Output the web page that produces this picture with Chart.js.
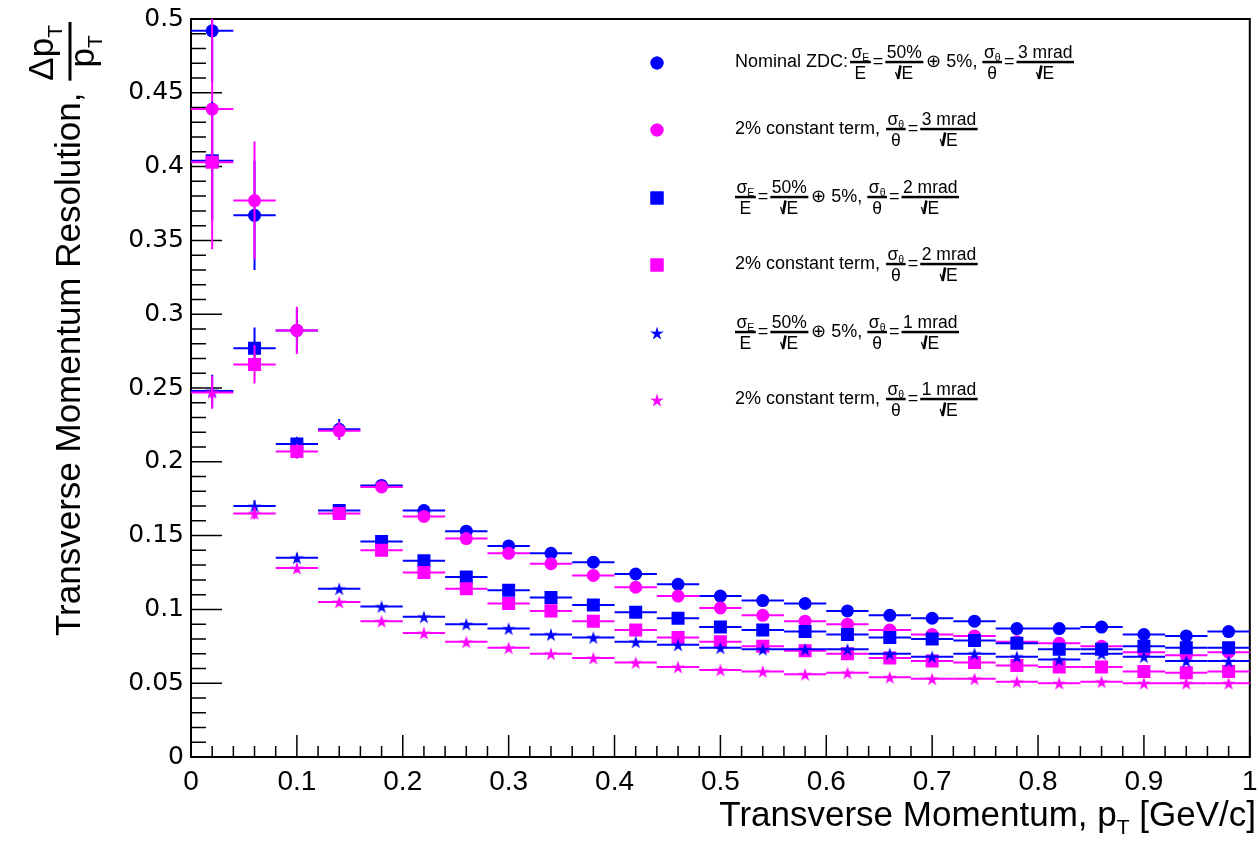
<!DOCTYPE html>
<html>
<head>
<meta charset="utf-8">
<script src="https://cdn.jsdelivr.net/npm/chart.js@4/dist/chart.umd.min.js"></script>
<style>
  html, body { margin: 0; padding: 0; background: #fff; }
  #myChart { display: block; }
</style>
</head>
<body>
<canvas id="myChart" width="1259" height="842"></canvas>
<script>
// bin centres of pT [GeV/c], each bin is 0.04 wide
const binCenters = [0.02, 0.06, 0.10, 0.14, 0.18, 0.22, 0.26, 0.30, 0.34, 0.38, 0.42, 0.46, 0.50,
  0.54, 0.58, 0.62, 0.66, 0.70, 0.74, 0.78, 0.82, 0.86, 0.90, 0.94, 0.98];
const binHalfWidth = 0.02;

// Nominal ZDC, 3 mrad
const nominal3 = [0.492, 0.367, 0.289, 0.222, 0.184, 0.167, 0.153, 0.143, 0.138, 0.132, 0.124, 0.117, 0.109,
  0.106, 0.104, 0.099, 0.096, 0.094, 0.092, 0.087, 0.087, 0.088, 0.083, 0.082, 0.085];
const nominal3Err = [0.035, 0.037, 0.015, 0.007, 0.003, 0.003, 0.002, 0.002, 0.002, 0.002, 0.002, 0.002, 0.002,
  0.002, 0.002, 0.002, 0.002, 0.002, 0.002, 0.002, 0.002, 0.002, 0.002, 0.002, 0.002];
// 2% constant term, 3 mrad
const const3 = [0.439, 0.377, 0.289, 0.221, 0.183, 0.163, 0.148, 0.138, 0.131, 0.123, 0.115, 0.109, 0.101,
  0.096, 0.092, 0.090, 0.086, 0.083, 0.082, 0.078, 0.077, 0.075, 0.071, 0.069, 0.071];
const const3Err = [0.095, 0.040, 0.016, 0.006, 0.003, 0.003, 0.002, 0.002, 0.002, 0.002, 0.002, 0.002, 0.002,
  0.002, 0.002, 0.002, 0.002, 0.002, 0.002, 0.002, 0.002, 0.002, 0.002, 0.002, 0.002];
// 50% (+) 5%, 2 mrad
const nominal2 = [0.404, 0.277, 0.212, 0.167, 0.146, 0.133, 0.122, 0.113, 0.108, 0.103, 0.098, 0.094, 0.088,
  0.086, 0.085, 0.083, 0.081, 0.080, 0.079, 0.077, 0.073, 0.073, 0.075, 0.074, 0.074];
const nominal2Err = [0.040, 0.014, 0.005, 0.003, 0.002, 0.002, 0.002, 0.002, 0.002, 0.002, 0.002, 0.002, 0.002,
  0.002, 0.002, 0.002, 0.002, 0.002, 0.002, 0.002, 0.002, 0.002, 0.002, 0.002, 0.002];
// 2% constant term, 2 mrad
const const2 = [0.403, 0.266, 0.207, 0.165, 0.140, 0.125, 0.114, 0.104, 0.099, 0.092, 0.086, 0.081, 0.078,
  0.075, 0.072, 0.070, 0.067, 0.065, 0.064, 0.062, 0.061, 0.061, 0.058, 0.057, 0.058];
const const2Err = [0.040, 0.013, 0.005, 0.003, 0.002, 0.002, 0.002, 0.002, 0.002, 0.002, 0.002, 0.002, 0.002,
  0.002, 0.002, 0.002, 0.002, 0.002, 0.002, 0.002, 0.002, 0.002, 0.002, 0.002, 0.002];
// 50% (+) 5%, 1 mrad
const nominal1 = [0.248, 0.170, 0.135, 0.114, 0.102, 0.095, 0.090, 0.087, 0.083, 0.081, 0.078, 0.076, 0.074,
  0.073, 0.073, 0.073, 0.070, 0.068, 0.070, 0.068, 0.066, 0.070, 0.068, 0.065, 0.065];
const nominal1Err = [0.011, 0.004, 0.003, 0.002, 0.002, 0.002, 0.002, 0.002, 0.002, 0.002, 0.002, 0.002, 0.002,
  0.002, 0.002, 0.002, 0.002, 0.002, 0.002, 0.002, 0.002, 0.002, 0.002, 0.002, 0.002];
// 2% constant term, 1 mrad
const const1 = [0.247, 0.165, 0.128, 0.105, 0.092, 0.084, 0.078, 0.074, 0.070, 0.067, 0.064, 0.061, 0.059,
  0.058, 0.056, 0.057, 0.054, 0.053, 0.053, 0.051, 0.050, 0.051, 0.050, 0.050, 0.050];
const const1Err = [0.011, 0.004, 0.003, 0.002, 0.002, 0.002, 0.002, 0.002, 0.002, 0.002, 0.002, 0.002, 0.002,
  0.002, 0.002, 0.002, 0.002, 0.002, 0.002, 0.002, 0.002, 0.002, 0.002, 0.002, 0.002];

const yTicks = { min: 0, max: 0.5, step: 0.05 };
const xTicks = { min: 0, max: 1, step: 0.1 };

const BLUE = "#0000ff";
const MAGENTA = "#ff00ff";
const FONT = '"Liberation Sans", Arial, Helvetica, sans-serif';

function starMarker(color) {
  const c = document.createElement("canvas");
  c.width = 16;
  c.height = 16;
  const g = c.getContext("2d");
  g.fillStyle = color;
  g.beginPath();
  for (let i = 0; i < 10; i++) {
    const r = i % 2 ? 2.6 : 7.2;
    const a = -Math.PI / 2 + (i * Math.PI) / 5;
    const px = 8 + r * Math.cos(a);
    const py = 8.8 + r * Math.sin(a);
    if (i == 0) g.moveTo(px, py);
    else g.lineTo(px, py);
  }
  g.closePath();
  g.fill();
  return c;
}

function points(values, errs) {
  return binCenters.map((x, i) => ({ x: x, y: values[i], xErr: binHalfWidth, yErr: errs[i] }));
}

// legend text pieces (drawn as small TLatex-like formulas)
const sigE = [{ t: "σ" }, { sub: "E" }];
const sigT = [{ t: "σ" }, { sub: "θ" }];
const fracE = { frac: [sigE, [{ t: "E" }]] };
const fracT = { frac: [sigT, [{ t: "θ" }]] };
const fracStoch = { frac: [[{ t: "50%" }], [{ sqrt: "E" }]] };
const fracMrad = (n) => ({ frac: [[{ t: n + " mrad" }], [{ sqrt: "E" }]] });
const eq = [{ g: 2 }, { t: "=" }, { g: 2 }];
const nominalLabel = (n) => [fracE, ...eq, fracStoch, { g: 3 }, { t: "⊕ 5%," }, { g: 5 }, fracT, ...eq, fracMrad(n)];
const constLabel = (n) => [{ t: "2% constant term," }, { g: 6 }, fracT, ...eq, fracMrad(n)];

const legendRows = [
  [{ t: "Nominal ZDC:" }, { g: 2 }, ...nominalLabel("3")],
  constLabel("3"),
  nominalLabel("2"),
  constLabel("2"),
  nominalLabel("1"),
  constLabel("1"),
];

const datasets = [
  { data: points(nominal3, nominal3Err), color: BLUE, pointStyle: "circle", radius: 6.5 },
  { data: points(const3, const3Err), color: MAGENTA, pointStyle: "circle", radius: 6.5 },
  { data: points(nominal2, nominal2Err), color: BLUE, pointStyle: "rect", radius: 9.2 },
  { data: points(const2, const2Err), color: MAGENTA, pointStyle: "rect", radius: 9.2 },
  { data: points(nominal1, nominal1Err), color: BLUE, pointStyle: starMarker(BLUE), radius: 7 },
  { data: points(const1, const1Err), color: MAGENTA, pointStyle: starMarker(MAGENTA), radius: 7 },
].map((d, i, all) => ({
  data: d.data,
  borderColor: d.color,
  backgroundColor: d.color,
  pointStyle: d.pointStyle,
  pointRadius: d.radius,
  pointHoverRadius: d.radius,
  pointBorderWidth: 0,
  showLine: false,
  order: all.length - i, // first series drawn underneath, like ROOT
}));

// ---- small formula renderer for the legend ----
const BASE = 18, FR = 17.5, SUB = 10.5;
const font = (sz) => `${sz}px ${FONT}`;

function widthOf(ctx, items, sz) {
  let w = 0;
  for (const it of items) {
    if (it.t !== undefined) {
      ctx.font = font(sz);
      w += ctx.measureText(it.t).width;
    } else if (it.sub !== undefined) {
      ctx.font = font(SUB);
      w += ctx.measureText(it.sub).width;
    } else if (it.g !== undefined) {
      w += it.g;
    } else if (it.sqrt !== undefined) {
      ctx.font = font(sz);
      w += 7 + ctx.measureText(it.sqrt).width;
    } else if (it.frac) {
      w += Math.max(widthOf(ctx, it.frac[0], FR), widthOf(ctx, it.frac[1], FR)) + 3;
    }
  }
  return w;
}

function drawItems(ctx, items, x, base, sz) {
  for (const it of items) {
    if (it.t !== undefined) {
      ctx.font = font(sz);
      ctx.fillText(it.t, x, base);
      x += ctx.measureText(it.t).width;
    } else if (it.sub !== undefined) {
      ctx.font = font(SUB);
      ctx.fillText(it.sub, x, base + 3);
      x += ctx.measureText(it.sub).width;
    } else if (it.g !== undefined) {
      x += it.g;
    } else if (it.sqrt !== undefined) {
      const h = sz * 0.72;
      ctx.beginPath();
      ctx.lineWidth = 1.2;
      ctx.moveTo(x + 0.5, base - h * 0.55);
      ctx.lineTo(x + 3, base);
      ctx.stroke();
      ctx.beginPath();
      ctx.lineWidth = 2.6;
      ctx.moveTo(x + 3, base);
      ctx.lineTo(x + 5.5, base - h - 1);
      ctx.stroke();
      ctx.font = font(sz);
      ctx.fillText(it.sqrt, x + 6.5, base);
      x += 7 + ctx.measureText(it.sqrt).width;
    } else if (it.frac) {
      const wn = widthOf(ctx, it.frac[0], FR);
      const wd = widthOf(ctx, it.frac[1], FR);
      const w = Math.max(wn, wd) + 3;
      const axis = base - 5;
      drawItems(ctx, it.frac[0], x + (w - wn) / 2, axis - 4, FR);
      drawItems(ctx, it.frac[1], x + (w - wd) / 2, axis + 17, FR);
      ctx.fillRect(x, axis - 1.2, w, 2.5);
      x += w;
    }
  }
  return x;
}

const errorBars = {
  id: "errorBars",
  beforeDatasetDraw(chart, args) {
    const ds = chart.data.datasets[args.index];
    const xs = chart.scales.x, ys = chart.scales.y;
    const a = chart.chartArea;
    const ctx = chart.ctx;
    ctx.save();
    ctx.beginPath();
    ctx.rect(a.left, a.top, a.right - a.left, a.bottom - a.top);
    ctx.clip();
    ctx.strokeStyle = ds.borderColor;
    ctx.lineWidth = 2;
    ds.data.forEach((p) => {
      const y = ys.getPixelForValue(p.y);
      const xc = xs.getPixelForValue(p.x);
      ctx.beginPath();
      ctx.moveTo(xs.getPixelForValue(p.x - p.xErr), y);
      ctx.lineTo(xs.getPixelForValue(p.x + p.xErr), y);
      ctx.moveTo(xc, ys.getPixelForValue(p.y - p.yErr));
      ctx.lineTo(xc, ys.getPixelForValue(p.y + p.yErr));
      ctx.stroke();
    });
    ctx.restore();
  },
};

// ROOT style frame with inside ticks
const frame = {
  id: "frame",
  beforeDatasetsDraw(chart) {
    const ctx = chart.ctx;
    const a = chart.chartArea;
    const xs = chart.scales.x, ys = chart.scales.y;
    ctx.save();
    ctx.strokeStyle = "#000";
    ctx.lineWidth = 2;
    ctx.strokeRect(a.left, a.top, a.right - a.left, a.bottom - a.top);
    ctx.lineWidth = 1.5;
    ctx.beginPath();
    const yt = ys.ticks.map((t) => t.value);
    for (let i = 0; i < yt.length; i++) {
      const py = ys.getPixelForValue(yt[i]);
      ctx.moveTo(a.left, py);
      ctx.lineTo(a.left + 31, py);
      if (i < yt.length - 1) {
        for (let k = 1; k < 5; k++) {
          const pm = ys.getPixelForValue(yt[i] + ((yt[i + 1] - yt[i]) * k) / 5);
          ctx.moveTo(a.left, pm);
          ctx.lineTo(a.left + 15, pm);
        }
      }
    }
    const xt = xs.ticks.map((t) => t.value);
    for (let i = 0; i < xt.length; i++) {
      const px = xs.getPixelForValue(xt[i]);
      ctx.moveTo(px, a.bottom);
      ctx.lineTo(px, a.bottom - 22);
      if (i < xt.length - 1) {
        for (let k = 1; k < 5; k++) {
          const pm = xs.getPixelForValue(xt[i] + ((xt[i + 1] - xt[i]) * k) / 5);
          ctx.moveTo(pm, a.bottom);
          ctx.lineTo(pm, a.bottom - 11);
        }
      }
    }
    ctx.stroke();
    ctx.restore();
  },
};

const titlesAndLegend = {
  id: "titlesAndLegend",
  afterDraw(chart) {
    const ctx = chart.ctx;
    ctx.save();
    ctx.fillStyle = "#000";
    ctx.strokeStyle = "#000";
    ctx.textBaseline = "alphabetic";

    // x title
    const part1 = "Transverse Momentum, p";
    const part2 = " [GeV/c]";
    ctx.font = `35px ${FONT}`;
    const w1 = ctx.measureText(part1).width;
    const w2 = ctx.measureText(part2).width;
    ctx.font = `21px ${FONT}`;
    const wt = ctx.measureText("T").width;
    let x = 1256 - w1 - w2 - wt;
    ctx.font = `35px ${FONT}`;
    ctx.fillText(part1, x, 826);
    ctx.font = `21px ${FONT}`;
    ctx.fillText("T", x + w1, 834);
    ctx.font = `35px ${FONT}`;
    ctx.fillText(part2, x + w1 + wt, 826);

    // y title, rotated
    ctx.translate(80, 636);
    ctx.rotate(-Math.PI / 2);
    ctx.font = `35px ${FONT}`;
    const yt = "Transverse Momentum Resolution,";
    ctx.fillText(yt, 0, 0);
    const f0 = ctx.measureText(yt).width + 12;
    ctx.font = `35px ${FONT}`;
    const wDp = ctx.measureText("Δp").width;
    const wp = ctx.measureText("p").width;
    ctx.fillText("Δp", f0, -27);
    ctx.font = `21px ${FONT}`;
    const wT = ctx.measureText("T").width;
    ctx.fillText("T", f0 + wDp, -18);
    const fw = wDp + wT + 3;
    ctx.fillRect(f0, -11.5, fw, 3);
    const d0 = f0 + (fw - wp - wT) / 2;
    ctx.font = `35px ${FONT}`;
    ctx.fillText("p", d0, 14);
    ctx.font = `21px ${FONT}`;
    ctx.fillText("T", d0 + wp, 22);
    ctx.restore();

    // legend
    ctx.save();
    ctx.fillStyle = "#000";
    ctx.strokeStyle = "#000";
    const rowY = [63, 130, 198, 265, 333, 400];
    chart.data.datasets.forEach((ds, i) => {
      ctx.fillStyle = ds.backgroundColor;
      Chart.helpers.drawPoint(ctx, { pointStyle: ds.pointStyle, radius: ds.pointRadius, rotation: 0, borderWidth: 0 }, 657, rowY[i]);
      ctx.fill();
      ctx.fillStyle = "#000";
      drawItems(ctx, legendRows[i], 735, rowY[i] + 4, BASE);
    });
    ctx.restore();
  },
};

new Chart("myChart", {
  type: "scatter",
  data: { datasets: datasets },
  options: {
    responsive: false,
    animation: false,
    devicePixelRatio: 1,
    layout: { padding: { left: 0, top: 19, right: 4, bottom: 0 } },
    plugins: { legend: { display: false }, tooltip: { enabled: false } },
    scales: {
      x: {
        type: "linear",
        min: xTicks.min,
        max: xTicks.max,
        grid: { display: false, drawTicks: false },
        border: { display: false },
        ticks: {
          stepSize: xTicks.step,
          autoSkip: false,
          maxRotation: 0,
          padding: 8,
          color: "#000",
          font: { family: FONT, size: 28 },
          callback: (v) => String(+v.toFixed(1)),
        },
        afterFit: (s) => {
          s.height = 85;
          s.paddingLeft = 0;
          s.paddingRight = 0;
        },
      },
      y: {
        type: "linear",
        min: yTicks.min,
        max: yTicks.max,
        grid: { display: false, drawTicks: false },
        border: { display: false },
        ticks: {
          stepSize: yTicks.step,
          autoSkip: false,
          padding: 7,
          color: "#000",
          font: { family: '"DejaVu Sans", sans-serif', size: 25 },
          callback: (v) => String(+v.toFixed(2)),
        },
        afterFit: (s) => {
          s.width = 191;
          s.paddingTop = 0;
          s.paddingBottom = 0;
        },
      },
    },
  },
  plugins: [frame, errorBars, titlesAndLegend],
});
</script>
</body>
</html>
